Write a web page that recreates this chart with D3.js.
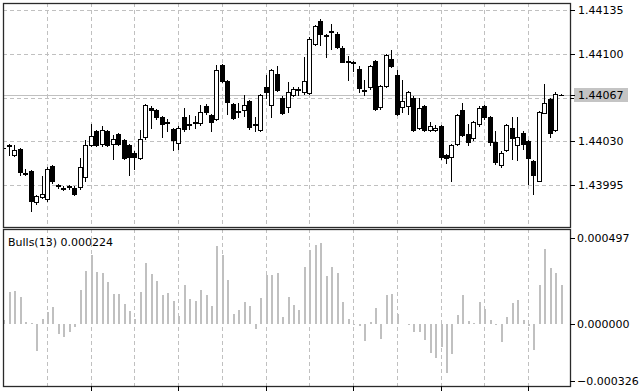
<!DOCTYPE html>
<html><head><meta charset="utf-8">
<script src="https://cdn.jsdelivr.net/npm/d3@7"></script>
<style>
html,body{margin:0;padding:0;background:#fff;}
svg{display:block;}
text{font-family:"DejaVu Sans",sans-serif;font-size:11px;fill:#000;}
</style></head><body>
<svg id="c" width="642" height="391"></svg>
<script>
// ---- data ----
const open  = [1.44025,1.44027,1.44019,1.44024,1.44005,1.44006,1.43981,1.43986,1.43984,1.44010,
               1.43995,1.43993,1.43993,1.43993,1.43993,1.44001,1.44027,1.44038,1.44028,1.44038,
               1.44028,1.44036,1.44031,1.44027,1.44021,1.44017,1.44033,1.44057,1.44055,1.44049,
               1.44045,1.44040,1.44029,1.44049,1.44044,1.44045,1.44044,1.44058,1.44051,1.44048,
               1.44091,1.44078,1.44060,1.44054,1.44055,1.44062,1.44044,1.44039,1.44073,1.44059,
               1.44084,1.44065,1.44057,1.44067,1.44072,1.44069,1.44069,1.44108,1.44126,1.44115,
               1.44118,1.44116,1.44105,1.44094,1.44093,1.44088,1.44071,1.44073,1.44094,1.44057,
               1.44074,1.44096,1.44083,1.44057,1.44058,1.44065,1.44041,1.44058,1.44039,1.44039,
               1.44042,1.44019,1.44017,1.44028,1.44055,1.44036,1.44032,1.44044,1.44058,1.44049,
               1.44029,1.44011,1.44023,1.44041,1.44027,1.44037,1.44030,1.44014,1.43998,1.44053,
               1.44064,1.44039,1.44067];
const high  = [1.44027,1.44028,1.44027,1.44025,1.44008,1.44007,1.43987,1.44002,1.44009,1.44011,
               1.43996,1.43994,1.43995,1.43994,1.44017,1.44031,1.44044,1.44039,1.44042,1.44039,
               1.44035,1.44037,1.44032,1.44028,1.44022,1.44039,1.44060,1.44058,1.44056,1.44050,
               1.44048,1.44041,1.44042,1.44057,1.44051,1.44050,1.44059,1.44060,1.44052,1.44091,
               1.44092,1.44079,1.44061,1.44061,1.44067,1.44063,1.44049,1.44068,1.44083,1.44088,
               1.44090,1.44066,1.44077,1.44073,1.44073,1.44097,1.44113,1.44123,1.44128,1.44116,
               1.44124,1.44117,1.44106,1.44098,1.44094,1.44090,1.44079,1.44091,1.44095,1.44075,
               1.44100,1.44103,1.44087,1.44079,1.44070,1.44066,1.44065,1.44059,1.44045,1.44043,
               1.44043,1.44020,1.44028,1.44052,1.44061,1.44044,1.44046,1.44058,1.44059,1.44050,
               1.44038,1.44022,1.44044,1.44049,1.44049,1.44038,1.44031,1.44015,1.44054,1.44076,
               1.44065,1.44069,1.44068];
const low   = [1.44024,1.44019,1.44018,1.44003,1.44003,1.43974,1.43980,1.43985,1.43982,1.43997,
               1.43993,1.43991,1.43992,1.43987,1.43992,1.43998,1.44026,1.44026,1.44026,1.44026,
               1.44016,1.44027,1.44016,1.44003,1.44008,1.44016,1.44032,1.44041,1.44048,1.44033,
               1.44038,1.44023,1.44024,1.44038,1.44040,1.44041,1.44043,1.44052,1.44038,1.44047,
               1.44077,1.44052,1.44048,1.44049,1.44050,1.44040,1.44038,1.44038,1.44065,1.44049,
               1.44070,1.44052,1.44053,1.44066,1.44067,1.44068,1.44068,1.44107,1.44107,1.44097,
               1.44104,1.44105,1.44093,1.44079,1.44086,1.44069,1.44067,1.44072,1.44055,1.44056,
               1.44073,1.44089,1.44051,1.44053,1.44052,1.44038,1.44040,1.44038,1.44038,1.44038,
               1.44016,1.44013,1.43998,1.44027,1.44034,1.44027,1.44031,1.44042,1.44048,1.44027,
               1.44012,1.44009,1.44022,1.44016,1.44015,1.44024,1.43996,1.43988,1.43998,1.44053,
               1.44033,1.44038,1.44067];
const close = [1.44025,1.44026,1.44023,1.44006,1.44004,1.43982,1.43986,1.43988,1.44008,1.43998,
               1.43994,1.43992,1.43994,1.43988,1.44009,1.44027,1.44034,1.44027,1.44039,1.44027,
               1.44032,1.44028,1.44017,1.44017,1.44018,1.44032,1.44059,1.44055,1.44049,1.44043,
               1.44044,1.44031,1.44041,1.44039,1.44043,1.44044,1.44053,1.44053,1.44045,1.44087,
               1.44078,1.44061,1.44049,1.44053,1.44059,1.44041,1.44043,1.44067,1.44069,1.44087,
               1.44071,1.44053,1.44069,1.44072,1.44071,1.44078,1.44112,1.44122,1.44116,1.44114,
               1.44117,1.44106,1.44094,1.44093,1.44092,1.44073,1.44070,1.44090,1.44056,1.44074,
               1.44099,1.44090,1.44052,1.44062,1.44069,1.44039,1.44057,1.44039,1.44042,1.44041,
               1.44017,1.44017,1.44027,1.44051,1.44035,1.44030,1.44045,1.44057,1.44049,1.44029,
               1.44013,1.44021,1.44043,1.44033,1.44033,1.44028,1.44016,1.44003,1.44053,1.44061,
               1.44037,1.44068,1.44067];
const bulls = [0.000025,0.000185,0.000190,0.000155,0.000012,0.000005,-0.000157,0.000027,0.000069,0.000098,
               -0.000056,-0.000075,-0.000046,-0.000020,0.000194,0.000303,0.000399,0.000300,0.000296,0.000242,
               0.000175,0.000171,0.000117,0.000075,0.000027,0.000184,0.000353,0.000290,0.000246,0.000165,
               0.000180,0.000132,0.000045,0.000223,0.000142,0.000132,0.000198,0.000165,0.000104,0.000449,
               0.000400,0.000252,0.000055,0.000079,0.000126,0.000104,-0.000026,0.000149,0.000285,0.000285,
               0.000291,0.000038,0.000156,0.000110,0.000079,0.000331,0.000428,0.000454,0.000464,0.000276,
               0.000331,0.000291,0.000126,0.000030,-0.000004,-0.000010,-0.000099,0.000014,0.000093,-0.000084,
               0.000166,0.000171,0.000058,0.000002,-0.000003,-0.000045,-0.000045,-0.000090,-0.000165,-0.000196,
               -0.000132,-0.000280,-0.000175,0.000054,0.000165,0.000015,0.000008,0.000127,0.000084,0.000025,
               -0.000005,-0.000104,0.000040,0.000123,0.000136,0.000021,-0.000012,-0.000152,0.000226,0.000433,
               0.000322,0.000291,0.000224];
const priceTicks = [1.44135, 1.44100, 1.44065, 1.44030, 1.43995];
const currentPrice = 1.44067;
const bullsTicks = [0.000497, 0.000000, -0.000326];
const indicatorName = "Bulls(13)";
const gridStep = 8;      // bars between vertical grid lines
const timeTickStep = 16; // bars between bottom axis ticks

// ---- layout ----
const L = 3, R = 570, T1 = 3, B1 = 227, T2 = 229, B2 = 386;
const n = close.length;
const svg = d3.select("#c");
const x  = d3.scaleLinear().domain([0, n - 1]).range([3.3, 560.8]);
const y  = d3.scaleLinear().domain([1.43995, 1.44135]).range([185, 10]);
const yb = d3.scaleLinear().domain([-0.000326, 0.000497]).range([380.6, 237.7]);
const fmtP = d3.format(".5f"), fmtB = d3.format(".6f");
const snap = v => Math.round(v) + 0.5;

const defs = svg.append("defs");
defs.append("clipPath").attr("id","cm").append("rect").attr("x",L).attr("y",T1).attr("width",R-L).attr("height",B1-T1);
defs.append("clipPath").attr("id","cb").append("rect").attr("x",L).attr("y",T2).attr("width",R-L).attr("height",B2-T2);

const gM = svg.append("g").attr("clip-path","url(#cm)");
const gB = svg.append("g").attr("clip-path","url(#cb)");
const gridIdx = d3.range(gridStep, n, gridStep);

// grid main
gM.selectAll("line.hg").data(priceTicks).join("line")
  .attr("x1",L).attr("x2",R).attr("y1",d=>snap(y(d))).attr("y2",d=>snap(y(d)))
  .attr("stroke","#c0c0c0").attr("stroke-dasharray","4,3");
gM.selectAll("line.vg").data(gridIdx).join("line")
  .attr("x1",d=>snap(x(d))).attr("x2",d=>snap(x(d))).attr("y1",T1).attr("y2",B1)
  .attr("stroke","#c0c0c0").attr("stroke-dasharray","4,3");
gB.selectAll("line.vg").data(gridIdx).join("line")
  .attr("x1",d=>snap(x(d))).attr("x2",d=>snap(x(d))).attr("y1",T2).attr("y2",B2)
  .attr("stroke","#c0c0c0").attr("stroke-dasharray","4,3");

// current price line
gM.append("line").attr("x1",L).attr("x2",R)
  .attr("y1",snap(y(currentPrice))).attr("y2",snap(y(currentPrice)))
  .attr("stroke","#c0c0c0");

// candles
const idx = d3.range(n);
gM.selectAll("line.wick").data(idx).join("line")
  .attr("x1",i=>snap(x(i))).attr("x2",i=>snap(x(i)))
  .attr("y1",i=>Math.round(y(high[i]))).attr("y2",i=>Math.round(y(low[i]))+1)
  .attr("stroke","#000").attr("shape-rendering","crispEdges");
gM.selectAll("rect.body").data(idx.filter(i=>Math.abs(y(open[i])-y(close[i]))>=1)).join("rect")
  .attr("x",i=>Math.round(x(i))-1.5).attr("width",4)
  .attr("y",i=>Math.round(y(Math.max(open[i],close[i])))+0.5)
  .attr("height",i=>Math.max(1,Math.round(Math.abs(y(open[i])-y(close[i])))))
  .attr("fill",i=>close[i]>=open[i]?"#fff":"#000").attr("stroke","#000");
gM.selectAll("line.doji").data(idx.filter(i=>Math.abs(y(open[i])-y(close[i]))<1)).join("line")
  .attr("x1",i=>Math.round(x(i))-2).attr("x2",i=>Math.round(x(i))+3)
  .attr("y1",i=>snap(y(close[i]))).attr("y2",i=>snap(y(close[i])))
  .attr("stroke","#000");

// bulls histogram
gB.selectAll("line.hb").data(idx).join("line")
  .attr("x1",i=>Math.round(x(i))+1).attr("x2",i=>Math.round(x(i))+1)
  .attr("y1",Math.round(yb(0))).attr("y2",i=>Math.round(yb(bulls[i])))
  .attr("stroke","#c0c0c0").attr("stroke-width",2).attr("shape-rendering","crispEdges");

// frames
[[T1,B1],[T2,B2]].forEach(([t,b])=>{
  svg.append("rect").attr("x",L+0.5).attr("y",t+0.5).attr("width",R-L).attr("height",b-t)
    .attr("fill","none").attr("stroke","#2a2a2a").attr("stroke-width",1.3);
});

// right price axis (labels hidden where the current-price box covers them)
const ax = svg.append("g");
const shownTicks = priceTicks.filter(d => Math.abs(y(d) - y(currentPrice)) >= 12);
ax.selectAll("line.pt").data(priceTicks).join("line")
  .attr("x1",R).attr("x2",R+5).attr("y1",d=>snap(y(d))).attr("y2",d=>snap(y(d))).attr("stroke","#000");
ax.selectAll("text.pl").data(shownTicks).join("text")
  .attr("x",578).attr("y",d=>y(d)+4).text(d=>fmtP(d));
ax.append("rect").attr("x",574).attr("y",y(currentPrice)-7).attr("width",54).attr("height",14).attr("fill","#c4c4c4");
ax.append("line").attr("x1",R).attr("x2",R+5).attr("y1",snap(y(currentPrice))).attr("y2",snap(y(currentPrice))).attr("stroke","#000");
ax.append("text").attr("x",578).attr("y",y(currentPrice)+4).text(fmtP(currentPrice));

// right bulls axis
ax.selectAll("line.bt").data(bullsTicks).join("line")
  .attr("x1",R).attr("x2",R+5).attr("y1",d=>snap(yb(d))).attr("y2",d=>snap(yb(d))).attr("stroke","#000");
ax.selectAll("text.bl").data(bullsTicks).join("text")
  .attr("x",577).attr("y",d=>yb(d)+4).text(d=>fmtB(d));

// bottom time ticks
ax.selectAll("line.tt").data(d3.range(timeTickStep, n, timeTickStep)).join("line")
  .attr("x1",d=>snap(x(d))).attr("x2",d=>snap(x(d))).attr("y1",B2).attr("y2",391).attr("stroke","#000");

// indicator label
svg.append("text").attr("x",8).attr("y",246).text(indicatorName + " " + fmtB(bulls[n-1]));
</script>
</body></html>
